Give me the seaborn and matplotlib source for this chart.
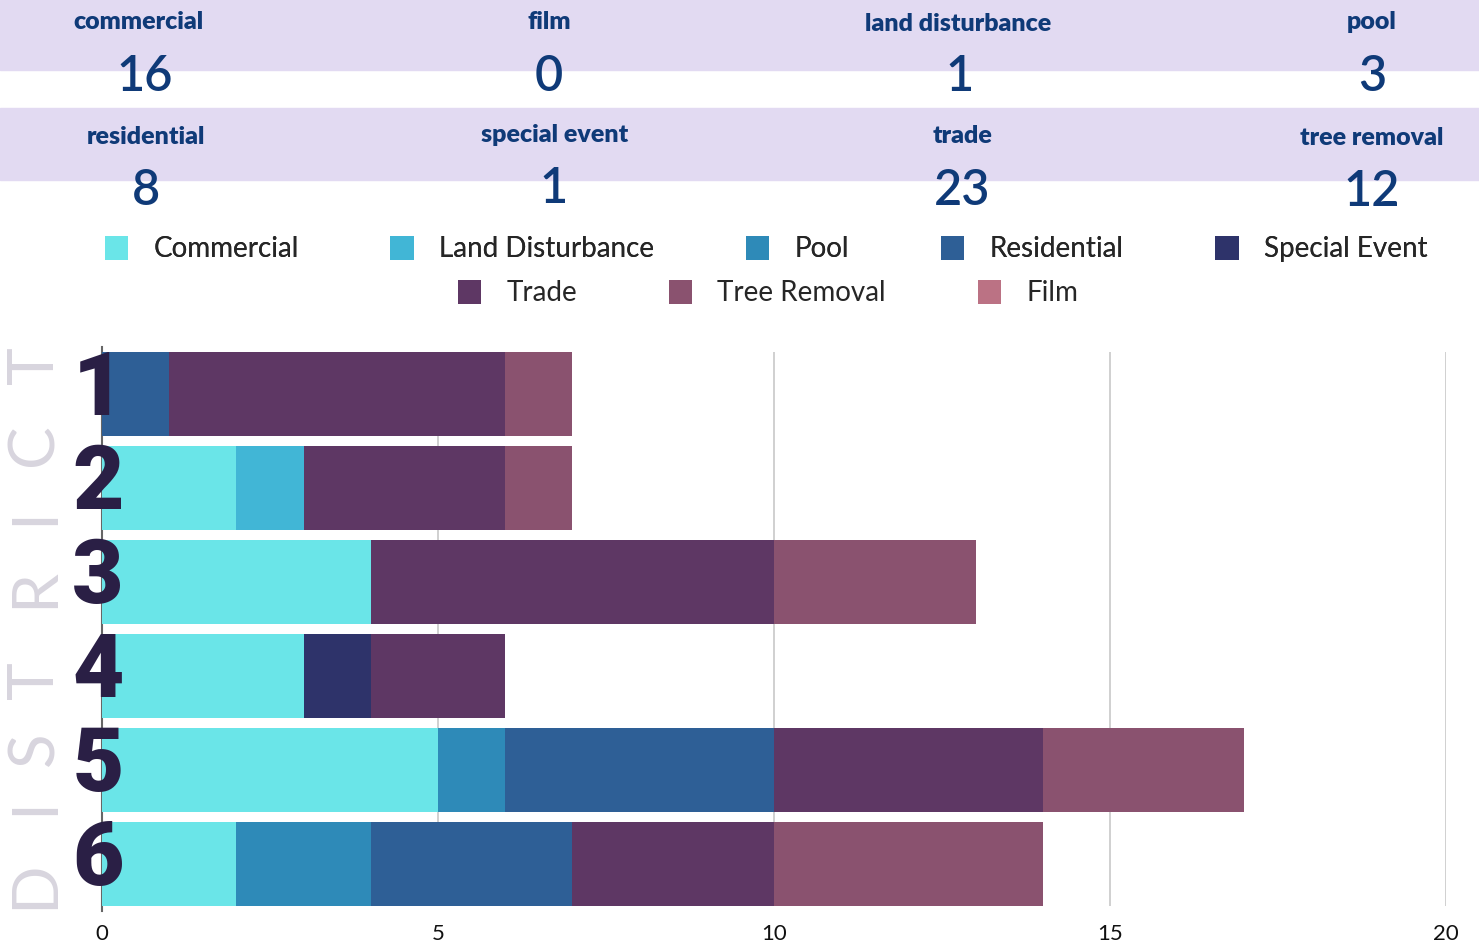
import matplotlib
matplotlib.use("Agg")
import matplotlib.pyplot as plt
import seaborn as sns
import pandas as pd
from matplotlib.patches import Patch, Rectangle

# ---------------- data ----------------
districts = ["1", "2", "3", "4", "5", "6"]
categories = ["Commercial", "Land Disturbance", "Pool", "Residential",
              "Special Event", "Trade", "Tree Removal", "Film"]
commercial = [0, 2, 4, 3, 5, 2]
land_disturbance = [0, 1, 0, 0, 0, 0]
pool = [0, 0, 0, 0, 1, 2]
residential = [1, 0, 0, 0, 4, 3]
special_event = [0, 0, 0, 1, 0, 0]
trade = [5, 3, 6, 2, 4, 3]
tree_removal = [1, 1, 3, 0, 3, 4]
film = [0, 0, 0, 0, 0, 0]

colors = ["#6ae5e8", "#41b6d6", "#2e8ab8", "#2e5f96",
          "#2e336a", "#5e3764", "#8a526f", "#bb7284"]

# summary boxes at the top
summary_labels = ["commercial", "film", "land disturbance", "pool",
                  "residential", "special event", "trade", "tree removal"]
summary_values = [16, 0, 1, 3, 8, 1, 23, 12]

df = pd.DataFrame({"District": districts, "Commercial": commercial,
                   "Land Disturbance": land_disturbance, "Pool": pool,
                   "Residential": residential, "Special Event": special_event,
                   "Trade": trade, "Tree Removal": tree_removal, "Film": film})
cum = df[categories].cumsum(axis=1)

sns.set_theme(style="white")
plt.rcParams["font.family"] = ["Lato", "DejaVu Sans"]

W, H = 1479, 944
fig = plt.figure(figsize=(W / 100, H / 100), dpi=100)
ax = fig.add_axes([102 / W, 33 / H, 1344 / W, 564 / H])

# stacked bars: draw cumulative totals from the last category backwards
for cat, col in reversed(list(zip(categories, colors))):
    sns.barplot(x=cum[cat], y=df["District"], orient="h", color=col,
                saturation=1, width=0.9, linewidth=0, order=districts, ax=ax)

ax.set_xlim(0, 20)
ax.set_ylim(5.5, -0.5)
ax.set_xticks([0, 5, 10, 15, 20])
ax.set_xticklabels(["0", "5", "10", "15", "20"], fontsize=16, color="#111111")
ax.tick_params(axis="x", length=0, pad=9)
ax.set_yticks([])
ax.set_xlabel("")
ax.set_ylabel("")
ax.grid(False)
# grid lines only over the span of the bars
ax.vlines([5, 10, 15, 20], -0.45, 5.45, color="#c8c8c8", linewidth=1.2,
          zorder=0)
for s in ["top", "right", "bottom"]:
    ax.spines[s].set_visible(False)
ax.spines["left"].set_color("#666666")
ax.spines["left"].set_linewidth(1.5)
ax.spines["left"].set_zorder(0)

# district numbers
for i, d in enumerate(districts):
    ax.text(-4 / 1344, i - 0.04, d, transform=ax.get_yaxis_transform(),
            ha="center", va="center", fontsize=64, fontweight="black",
            fontstretch="condensed", color="#2a1f45",
            family=["Roboto", "DejaVu Sans"], zorder=5)

# big vertical axis title, letter by letter (bottom to top)
title_letters = list("DISTRICT")
letter_y = [885, 806, 749, 680, 588, 516, 445, 365]
for ch, ly in zip(title_letters, letter_y):
    fig.text(35 / W, 1 - ly / H, ch, rotation=90, ha="center", va="center",
             fontsize=46, color="#d8d5de")

# lavender summary bands
for top, bot in [(0, 70), (108, 180)]:
    fig.patches.append(Rectangle((0, 1 - bot / H), 1, (bot - top) / H,
                                 transform=fig.transFigure, color="#e2daf2",
                                 zorder=0))

label_x = [139, 549, 958, 1372, 146, 555, 963, 1372]
label_y = [22, 22, 24, 22, 137, 135, 136, 138]
value_x = [145, 549, 960, 1372, 146, 554, 962, 1372]
value_y = [77, 77, 77, 77, 191, 189, 191, 192]
for lab, val, lx, ly, vx, vy in zip(summary_labels, summary_values,
                                     label_x, label_y, value_x, value_y):
    fig.text(lx / W, 1 - ly / H, lab, ha="center", va="center",
             fontsize=18, fontweight="heavy", color="#0f3a78")
    fig.text(vx / W, 1 - vy / H, str(val), ha="center", va="center",
             fontsize=35, fontweight="semibold", color="#0f3a78")

# legend in two centred rows
handles = [Patch(facecolor=c, edgecolor="none") for c in colors]
leg_kw = dict(frameon=False, fontsize=20, handlelength=0.85, handleheight=0.95,
              handletextpad=0.9, columnspacing=3.3, loc="center")
leg1 = fig.legend(handles[:5], categories[:5], ncol=5,
                  bbox_to_anchor=(766 / W, 1 - 249 / H), **leg_kw)
fig.legend(handles[5:], categories[5:], ncol=3,
           bbox_to_anchor=(768 / W, 1 - 293 / H), **leg_kw)
fig.add_artist(leg1)

fig.savefig("out.png", dpi=100)
